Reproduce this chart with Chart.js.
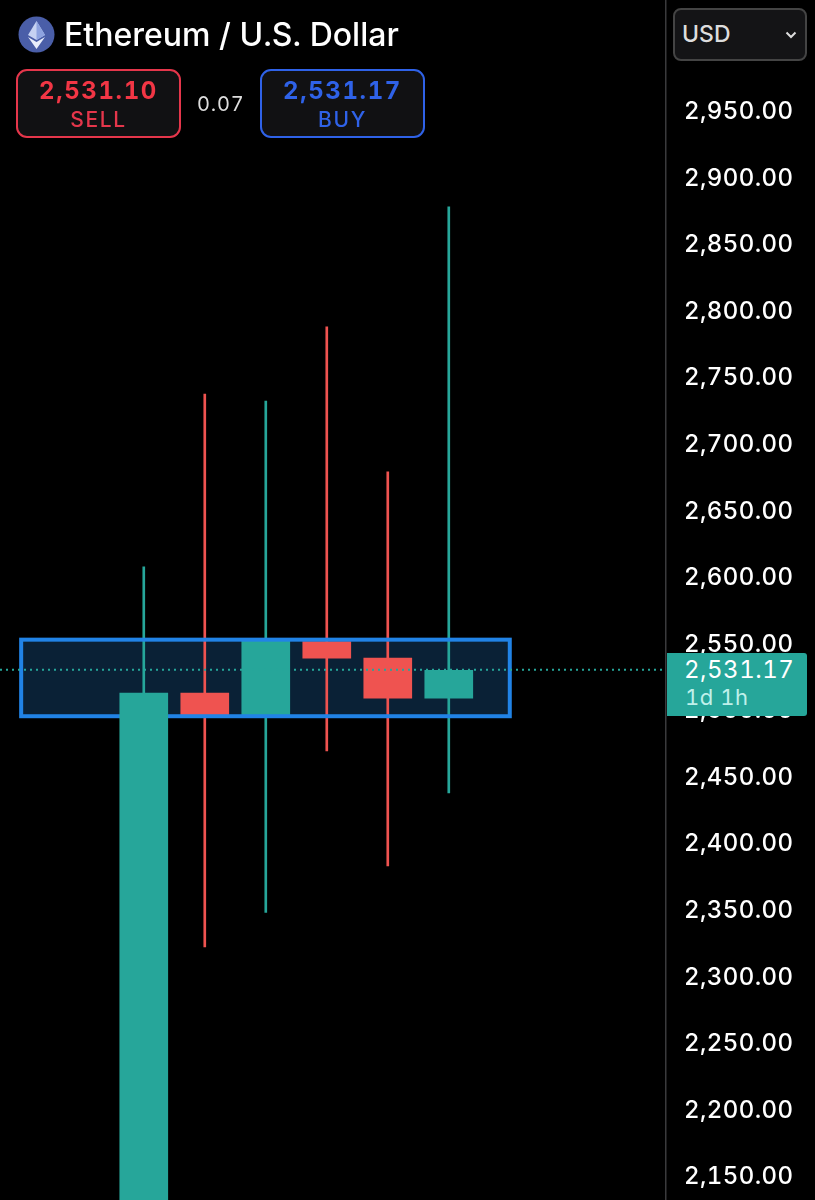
<!DOCTYPE html>
<html><head><meta charset="utf-8">
<style>
html,body{margin:0;padding:0;background:#000;width:815px;height:1200px;overflow:hidden}
body{font-family:Inter,"Noto Sans",sans-serif;position:relative;font-variant-numeric:tabular-nums}
#wrap{position:absolute;left:0;top:0;width:815px;height:1200px}
.abs{position:absolute;white-space:nowrap}
.box{position:absolute;box-sizing:border-box;background:#111113;border:2px solid;border-radius:11px;text-align:center}
.box .p{position:absolute;left:0;right:0;top:5px;font-size:24px;line-height:30px;font-weight:700;letter-spacing:1.6px}
.box .l{position:absolute;left:0;right:0;top:36px;font-size:21px;line-height:26px;font-weight:500;letter-spacing:1.6px}
</style>
<script src="https://cdn.jsdelivr.net/npm/chart.js@4"></script>
</head><body>
<div id="wrap"><canvas id="c" width="815" height="1200"></canvas></div>

<svg class="abs" style="left:18px;top:16px" width="37" height="37" viewBox="0 0 37 37">
  <circle cx="18.5" cy="18.5" r="18" fill="#4a5ea8"/>
  <polygon points="18.5,5 10,19 18.5,24 27,19" fill="#c6d2f2"/>
  <polygon points="18.5,5 18.5,24 27,19" fill="#8ea3e0"/>
  <polygon points="10,21 18.5,33 27,21 18.5,26" fill="#e8edfb"/>
</svg>
<div class="abs" id="title" style="left:64px;top:15px;font-size:32px;line-height:40px;font-weight:500;color:#fff">Ethereum / U.S. Dollar</div>

<div class="box" style="left:16px;top:69px;width:165px;height:69px;border-color:#e5364b">
  <div class="p" style="color:#f23645">2,531.10</div><div class="l" style="color:#e5364b">SELL</div>
</div>
<div class="abs" style="left:197px;top:91px;font-size:20px;line-height:26px;color:#ddd;letter-spacing:.8px">0.07</div>
<div class="box" style="left:260px;top:69px;width:165px;height:69px;border-color:#2f62e8">
  <div class="p" style="color:#2f62e8">2,531.17</div><div class="l" style="color:#2f62e8">BUY</div>
</div>

<div class="box" style="left:673px;top:8px;width:134px;height:53px;background:#141416;border-color:#444;border-radius:8px"></div>
<div class="abs" style="left:682px;top:19px;font-size:23px;line-height:30px;font-weight:500;color:#ddd">USD</div>
<svg class="abs" style="left:785px;top:31px" width="12" height="8" viewBox="0 0 12 8"><path d="M1.5 1.5 L6 6 L10.5 1.5" fill="none" stroke="#ddd" stroke-width="2"/></svg>

<div class="abs" style="left:667px;top:653px;width:140px;height:63px;background:#26a69a;border-radius:0 3px 3px 0"></div>
<div class="abs" style="left:684px;top:655px;font-size:24px;line-height:30px;color:#fff;letter-spacing:.5px">2,531.17</div>
<div class="abs" style="left:685px;top:683px;font-size:22px;line-height:28px;color:#bff0ea;letter-spacing:.5px">1d 1h</div>

<script>
// Candle data (USD)
const candleIndex = [0, 1, 2, 3, 4, 5];
const opens  = [2100.0, 2512.4, 2496.0, 2551.0, 2538.6, 2508.5];
const closes = [2512.4, 2496.0, 2552.0, 2538.6, 2508.5, 2529.5];
const highs  = [2607.2, 2737.0, 2731.7, 2787.5, 2678.5, 2877.6];
const lows   = [2100.0, 2321.7, 2347.7, 2469.0, 2382.6, 2437.4];
// Highlighted zone and last-price line
const zoneLow = 2495, zoneHigh = 2552.5, zoneFrom = -2.01, zoneTo = 6;
const priceLine = 2530;
// Axis
const yMin = 2131.6, yMax = 3033.0;
const xMin = -2.357, xMax = 8.561;
const yTicks = [2950, 2900, 2850, 2800, 2750, 2700, 2650, 2600, 2550, 2500, 2450, 2400, 2350, 2300, 2250, 2200, 2150];

const GREEN = '#26a69a', RED = '#ef5350';
const colorOf = i => closes[i] >= opens[i] ? GREEN : RED;
const bodyPts = candleIndex.map(i => ({x: i, y: [opens[i], closes[i]]}));
const wickPts = candleIndex.map(i => ({x: i, y: [lows[i], highs[i]]}));

const zonePlugin = {
  id: 'zone',
  beforeDraw(chart) {
    const ctx = chart.ctx, s = chart.scales.y;
    ctx.letterSpacing = '0.4px';
    if (!s._shifted) {
      const orig = s.drawLabels;
      s.drawLabels = function (area) {
        ctx.save(); ctx.translate(0, 1.5); orig.call(this, area); ctx.restore();
      };
      s._shifted = true;
    }
  },
  beforeDatasetsDraw(chart) {
    const {ctx, scales: {x, y}} = chart;
    ctx.save();
    ctx.fillStyle = '#0a2136';
    ctx.fillRect(x.getPixelForValue(zoneFrom), y.getPixelForValue(zoneHigh),
      x.getPixelForValue(zoneTo) - x.getPixelForValue(zoneFrom),
      y.getPixelForValue(zoneLow) - y.getPixelForValue(zoneHigh));
    ctx.restore();
  },
  afterDatasetDraw(chart, args) {
    if (args.index !== 1) return;
    const {ctx, scales: {x, y}} = chart;
    ctx.save();
    ctx.strokeStyle = '#2183e6';
    ctx.lineWidth = 4;
    ctx.strokeRect(x.getPixelForValue(zoneFrom), y.getPixelForValue(zoneHigh),
      x.getPixelForValue(zoneTo) - x.getPixelForValue(zoneFrom),
      y.getPixelForValue(zoneLow) - y.getPixelForValue(zoneHigh));
    ctx.restore();
  },
  afterDatasetsDraw(chart) {
    const {ctx, chartArea: a, scales: {y}} = chart;
    const py = y.getPixelForValue(priceLine);
    ctx.save();
    ctx.strokeStyle = GREEN;
    ctx.lineWidth = 2;
    ctx.setLineDash([2, 4]);
    ctx.beginPath();
    ctx.moveTo(a.left, py);
    ctx.lineTo(a.right, py);
    ctx.stroke();
    ctx.restore();
  }
};

new Chart(document.getElementById('c'), {
  type: 'bar',
  data: {
    datasets: [
      {label: 'First body', order: 0, data: [bodyPts[0]], barThickness: 48,
        backgroundColor: GREEN, grouped: false},
      {label: 'Bodies', order: 1, data: bodyPts.slice(1), barThickness: 48,
        backgroundColor: candleIndex.slice(1).map(colorOf), grouped: false},
      {label: 'Wicks', order: 2, data: wickPts, barThickness: 2,
        backgroundColor: candleIndex.map(colorOf), grouped: false}
    ]
  },
  plugins: [zonePlugin],
  options: {
    responsive: false,
    animation: false,
    devicePixelRatio: 1,
    layout: {padding: 0},
    plugins: {legend: {display: false}, tooltip: {enabled: false}},
    scales: {
      x: {type: 'linear', display: false, offset: false, min: xMin, max: xMax},
      y: {
        type: 'linear', position: 'right', min: yMin, max: yMax,
        grid: {display: false, drawTicks: false},
        border: {display: true, color: '#3a3a3c', width: 1.5},
        afterBuildTicks(s) { s.ticks = yTicks.map(v => ({value: v})); },
        afterFit(s) { s.width = 149; s.paddingTop = 0; s.paddingBottom = 0; },
        ticks: {
          autoSkip: false,
          padding: 18, color: '#fff',
          font: {family: 'Inter', size: 24, weight: '500'},
          callback: v => v.toLocaleString('en-US', {minimumFractionDigits: 2, maximumFractionDigits: 2})
        }
      }
    }
  }
});
</script>
</body></html>
